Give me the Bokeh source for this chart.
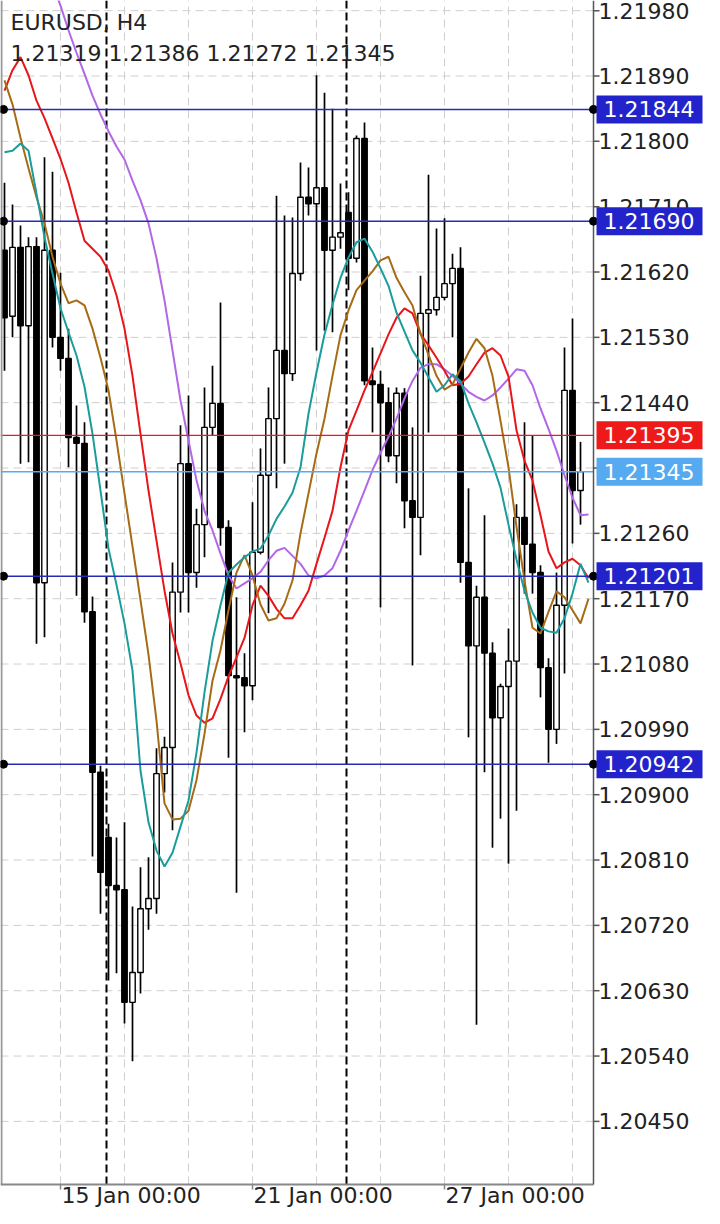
from bokeh.plotting import figure
from bokeh.models import Range1d, ColumnDataSource
from bokeh.core.properties import value
from bokeh.embed import file_html
from bokeh.resources import INLINE

# ---------------- data ----------------
symbol_title = "EURUSD, H4"
bars = list(range(73))

opens = [1.21650, 1.21559, 1.21654, 1.21546, 1.21655, 1.21192, 1.21650, 1.21530, 1.21501, 1.21392,
         1.21384, 1.21152, 1.20931, 1.20841, 1.20775, 1.20769, 1.20614, 1.20655, 1.20743, 1.20757,
         1.20929, 1.20965, 1.21179, 1.21356, 1.21206, 1.21272, 1.21406, 1.21439, 1.21268, 1.21064,
         1.21061, 1.21050, 1.21234, 1.21340, 1.21418, 1.21512, 1.21480, 1.21618, 1.21723, 1.21714,
         1.21736, 1.21650, 1.21668, 1.21702, 1.21639, 1.21804, 1.21470, 1.21465, 1.21440, 1.21367,
         1.21453, 1.21305, 1.21282, 1.21563, 1.21568, 1.21585, 1.21604, 1.21625, 1.21220, 1.21105,
         1.21172, 1.21095, 1.21006, 1.21049, 1.21084, 1.21282, 1.21245, 1.21206, 1.21075, 1.20990,
         1.21161, 1.21457, 1.21319]
highs = [1.21743, 1.21713, 1.21684, 1.21668, 1.21668, 1.21778, 1.21758, 1.21619, 1.21542, 1.21436,
         1.21413, 1.21173, 1.20940, 1.20860, 1.20841, 1.20862, 1.20746, 1.20800, 1.20814, 1.20964,
         1.20980, 1.21220, 1.21409, 1.21450, 1.21294, 1.21461, 1.21491, 1.21578, 1.21278, 1.21172,
         1.21095, 1.21303, 1.21377, 1.21461, 1.21725, 1.21698, 1.21695, 1.21771, 1.21764, 1.21891,
         1.21867, 1.21845, 1.21742, 1.21730, 1.21808, 1.21826, 1.21516, 1.21484, 1.21461, 1.21461,
         1.21460, 1.21406, 1.21615, 1.21754, 1.21680, 1.21694, 1.21645, 1.21654, 1.21322, 1.21188,
         1.21285, 1.21110, 1.21053, 1.21129, 1.21300, 1.21413, 1.21395, 1.21216, 1.21088, 1.21206,
         1.21516, 1.21556, 1.21386]
lows = [1.21484, 1.21530, 1.21356, 1.21358, 1.21108, 1.21117, 1.21516, 1.21484, 1.21351, 1.21174,
        1.21137, 1.20815, 1.20736, 1.20644, 1.20654, 1.20585, 1.20533, 1.20626, 1.20714, 1.20736,
        1.20903, 1.20851, 1.21151, 1.21151, 1.21185, 1.21227, 1.21395, 1.21243, 1.20951, 1.20765,
        1.20986, 1.21030, 1.21231, 1.21150, 1.21322, 1.21356, 1.21470, 1.21608, 1.21698, 1.21512,
        1.21539, 1.21537, 1.21652, 1.21595, 1.21633, 1.21464, 1.21399, 1.21158, 1.21358, 1.21329,
        1.21267, 1.21078, 1.21230, 1.21399, 1.21560, 1.21581, 1.21530, 1.21192, 1.20979, 1.20583,
        1.20931, 1.20827, 1.20867, 1.20805, 1.20878, 1.21177, 1.21177, 1.21034, 1.20944, 1.20970,
        1.21067, 1.21246, 1.21272]
closes = [1.21557, 1.21654, 1.21546, 1.21655, 1.21192, 1.21650, 1.21530, 1.21501, 1.21392, 1.21384,
          1.21152, 1.20931, 1.20793, 1.20775, 1.20769, 1.20614, 1.20655, 1.20743, 1.20757, 1.20929,
          1.20965, 1.21179, 1.21356, 1.21206, 1.21272, 1.21406, 1.21439, 1.21268, 1.21064, 1.21061,
          1.21050, 1.21234, 1.21340, 1.21418, 1.21512, 1.21480, 1.21618, 1.21723, 1.21714, 1.21736,
          1.21650, 1.21668, 1.21674, 1.21639, 1.21804, 1.21470, 1.21465, 1.21440, 1.21367, 1.21453,
          1.21305, 1.21282, 1.21563, 1.21568, 1.21585, 1.21604, 1.21625, 1.21220, 1.21105, 1.21172,
          1.21095, 1.21006, 1.21049, 1.21084, 1.21282, 1.21245, 1.21206, 1.21075, 1.20990, 1.21161,
          1.21457, 1.21319, 1.21345]

ma_bars = list(range(74))
ma_red = [1.21870, 1.21898, 1.21916, 1.21891, 1.21856, 1.21832, 1.21804, 1.21776, 1.21743, 1.21702,
          1.21663, 1.21652, 1.21641, 1.21622, 1.21588, 1.21542, 1.21477, 1.21397, 1.21319, 1.21250,
          1.21181, 1.21122, 1.21081, 1.21037, 1.21009, 1.20999, 1.21005, 1.21032, 1.21063, 1.21089,
          1.21116, 1.21161, 1.21188, 1.21174, 1.21156, 1.21143, 1.21143, 1.21161, 1.21181, 1.21218,
          1.21254, 1.21291, 1.21351, 1.21402, 1.21429, 1.21457, 1.21482, 1.21508, 1.21534, 1.21557,
          1.21570, 1.21563, 1.21535, 1.21519, 1.21502, 1.21484, 1.21464, 1.21466, 1.21476, 1.21493,
          1.21509, 1.21515, 1.21505, 1.21476, 1.21402, 1.21360, 1.21333, 1.21285, 1.21235, 1.21212,
          1.21220, 1.21225, 1.21216, 1.21198]
nan = float("nan")
ma_purple = [nan, nan, nan, nan, nan, nan,
             1.22016, 1.21987, 1.21953, 1.21922, 1.21893, 1.21863, 1.21837, 1.21814, 1.21793, 1.21775,
             1.21746, 1.21719, 1.21687, 1.21639, 1.21581, 1.21512, 1.21443, 1.21388, 1.21333, 1.21291,
             1.21264, 1.21232, 1.21202, 1.21184, 1.21191, 1.21198, 1.21207, 1.21223, 1.21236, 1.21240,
             1.21229, 1.21218, 1.21202, 1.21198, 1.21202, 1.21212, 1.21236, 1.21264, 1.21291, 1.21319,
             1.21347, 1.21371, 1.21393, 1.21418, 1.21446, 1.21470, 1.21488, 1.21493, 1.21493, 1.21486,
             1.21477, 1.21466, 1.21455, 1.21448, 1.21443, 1.21450, 1.21461, 1.21473, 1.21486, 1.21484,
             1.21464, 1.21432, 1.21404, 1.21374, 1.21340, 1.21309, 1.21285, 1.21286]
ma_teal = [1.21785, 1.21787, 1.21797, 1.21787, 1.21728, 1.21668, 1.21618, 1.21570, 1.21537, 1.21505,
           1.21462, 1.21397, 1.21319, 1.21239, 1.21189, 1.21136, 1.21071, 1.20933, 1.20862, 1.20823,
           1.20801, 1.20820, 1.20856, 1.20892, 1.20958, 1.21041, 1.21112, 1.21161, 1.21206, 1.21217,
           1.21227, 1.21235, 1.21239, 1.21257, 1.21280, 1.21297, 1.21316, 1.21351, 1.21425, 1.21482,
           1.21534, 1.21575, 1.21612, 1.21640, 1.21661, 1.21666, 1.21648, 1.21625, 1.21601, 1.21564,
           1.21538, 1.21512, 1.21495, 1.21475, 1.21455, 1.21464, 1.21479, 1.21470, 1.21439, 1.21413,
           1.21385, 1.21356, 1.21323, 1.21272, 1.21224, 1.21181, 1.21151, 1.21130, 1.21125, 1.21123,
           1.21143, 1.21177, 1.21218, 1.21192]
ma_brown = [1.21884, 1.21851, 1.21805, 1.21763, 1.21723, 1.21687, 1.21641, 1.21604, 1.21577, 1.21581,
            1.21574, 1.21542, 1.21502, 1.21457, 1.21388, 1.21315, 1.21242, 1.21168, 1.21093, 1.21002,
            1.20888, 1.20866, 1.20867, 1.20878, 1.20920, 1.20984, 1.21057, 1.21099, 1.21154, 1.21206,
            1.21230, 1.21202, 1.21162, 1.21140, 1.21143, 1.21163, 1.21195, 1.21260, 1.21315, 1.21370,
            1.21418, 1.21477, 1.21533, 1.21567, 1.21595, 1.21608, 1.21621, 1.21636, 1.21641, 1.21612,
            1.21592, 1.21574, 1.21535, 1.21506, 1.21477, 1.21458, 1.21465, 1.21487, 1.21509, 1.21528,
            1.21515, 1.21477, 1.21415, 1.21351, 1.21269, 1.21195, 1.21130, 1.21122, 1.21152, 1.21180,
            1.21172, 1.21154, 1.21136, 1.21170]

blue_levels = [1.21844, 1.21690, 1.21201, 1.20942]
red_level = 1.21395
bid_level = 1.21345

price_ticks = [1.21980, 1.21890, 1.21800, 1.21710, 1.21620, 1.21530, 1.21440, 1.21350, 1.21260,
               1.21170, 1.21080, 1.20990, 1.20900, 1.20810, 1.20720, 1.20630, 1.20540, 1.20450]
date_ticks = [7, 31, 55]
date_labels = ["15 Jan 00:00", "21 Jan 00:00", "27 Jan 00:00"]
grid_bars = [7, 15, 23, 31, 39, 47, 55, 63, 71]
week_separators = [12.75, 42.75]

# ---------------- style / layout ----------------
FONT = value("DejaVu Sans")
FS = value("22px")
TXT = "#222222"
BLUE_LINE = "#2a2ab8"
BLUE_BOX = "#2323cc"
RED = "#ee1a1a"
LIGHT_BLUE = "#55aaf0"
GRID = "#cfcfcf"

W, H = 712, 1208
XL, XR = -0.5, 88.5            # 8 px per bar
YB, YT = 1.20330, 1.21994
PX = (XR - XL) / W             # data units per pixel (x)
PY = (YT - YB) / H             # data units per pixel (y)
AX = XL + 593 * PX             # price-axis line position
PB = YT - 1184 * PY            # time-axis line position

p = figure(width=W, height=H, x_range=Range1d(XL, XR), y_range=Range1d(YB, YT),
           x_axis_location=None, y_axis_location=None,
           output_backend="svg", toolbar_location=None, min_border=0)
p.grid.visible = False
p.outline_line_color = None
p.background_fill_color = "white"
p.border_fill_color = "white"

# grid
p.segment(x0=XL, x1=AX, y0=price_ticks, y1=price_ticks, line_color=GRID, line_width=1, line_dash="8 5")
p.segment(x0=grid_bars, x1=grid_bars, y0=PB, y1=YT, line_color=GRID, line_width=1, line_dash="8 5")

# week separators
p.segment(x0=week_separators, x1=week_separators, y0=PB, y1=YT,
          line_color="black", line_width=2, line_dash="8 4")

# candles
src = ColumnDataSource(dict(
    x=bars, h=highs, l=lows,
    top=[max(a, b) for a, b in zip(opens, closes)],
    bot=[min(a, b) for a, b in zip(opens, closes)],
    fill=["white" if c >= o else "black" for o, c in zip(opens, closes)],
))
p.segment(x0="x", y0="l", x1="x", y1="h", source=src, line_color="black", line_width=1.7)
p.vbar(x="x", width=0.68, top="top", bottom="bot", source=src,
       fill_color="fill", line_color="black", line_width=1.4)

# moving averages
p.line(ma_bars, ma_purple, line_color="#b267e6", line_width=2)
p.line(ma_bars, ma_red, line_color="#e8151b", line_width=2)
p.line(ma_bars, ma_brown, line_color="#a66b16", line_width=2)
p.line(ma_bars, ma_teal, line_color="#1a9c9c", line_width=2)

# horizontal levels
p.segment(x0=XL, x1=AX, y0=blue_levels, y1=blue_levels, line_color=BLUE_LINE, line_width=1.5)
p.segment(x0=XL, x1=AX, y0=red_level, y1=red_level, line_color=RED, line_width=1.3)
p.segment(x0=XL, x1=AX, y0=bid_level, y1=bid_level, line_color=LIGHT_BLUE, line_width=1.5)

# frame / axis lines
p.segment(x0=XL + PX, x1=XL + PX, y0=PB, y1=YT, line_color="#999999", line_width=2)
p.segment(x0=XL, x1=AX, y0=PB, y1=PB, line_color="#888888", line_width=2)
p.segment(x0=AX, x1=AX, y0=PB, y1=YT, line_color="#555555", line_width=1.5)

# level dots
p.scatter(x=[XL + 3 * PX] * len(blue_levels), y=blue_levels, size=8, color="black")
p.scatter(x=[AX] * len(blue_levels), y=blue_levels, size=8, color="black")

# price axis ticks and labels
p.segment(x0=AX, x1=AX + 6 * PX, y0=price_ticks, y1=price_ticks, line_color="#555555", line_width=1.5)
p.text(x=[AX] * len(price_ticks), y=price_ticks, text=[f"{t:.5f}" for t in price_ticks],
       x_offset=5, text_align="left", text_baseline="middle",
       text_font=FONT, text_font_size=FS, text_color=TXT)

# time axis ticks and labels
p.segment(x0=date_ticks, x1=date_ticks, y0=PB, y1=PB - 5 * PY, line_color="#888888", line_width=1.5)
p.text(x=date_ticks, y=[PB] * len(date_ticks), text=date_labels, x_offset=1, y_offset=11,
       text_align="left", text_baseline="middle",
       text_font=FONT, text_font_size=FS, text_color=TXT)

# price boxes on the axis
box_levels = blue_levels + [red_level, bid_level]
box_colors = [BLUE_BOX] * len(blue_levels) + [RED, LIGHT_BLUE]
p.quad(left=AX + 3 * PX, right=AX + 109 * PX,
       top=[lv + 14 * PY for lv in box_levels], bottom=[lv - 14 * PY for lv in box_levels],
       fill_color=box_colors, line_color=None)
p.text(x=[AX] * len(box_levels), y=box_levels, text=[f"{lv:.5f}" for lv in box_levels],
       x_offset=10, text_align="left", text_baseline="middle",
       text_font=FONT, text_font_size=FS, text_color="white")

# header
ohlc_text = " ".join(f"{v:.5f}" for v in (opens[-1], highs[-1], lows[-1], closes[-1]))
p.text(x=[XL, XL], y=[YT, YT], text=[symbol_title, ohlc_text], x_offset=10, y_offset=[22, 53],
       text_align="left", text_baseline="middle",
       text_font=FONT, text_font_size=FS, text_color=TXT)

open("out.html", "w").write(file_html(p, INLINE))
